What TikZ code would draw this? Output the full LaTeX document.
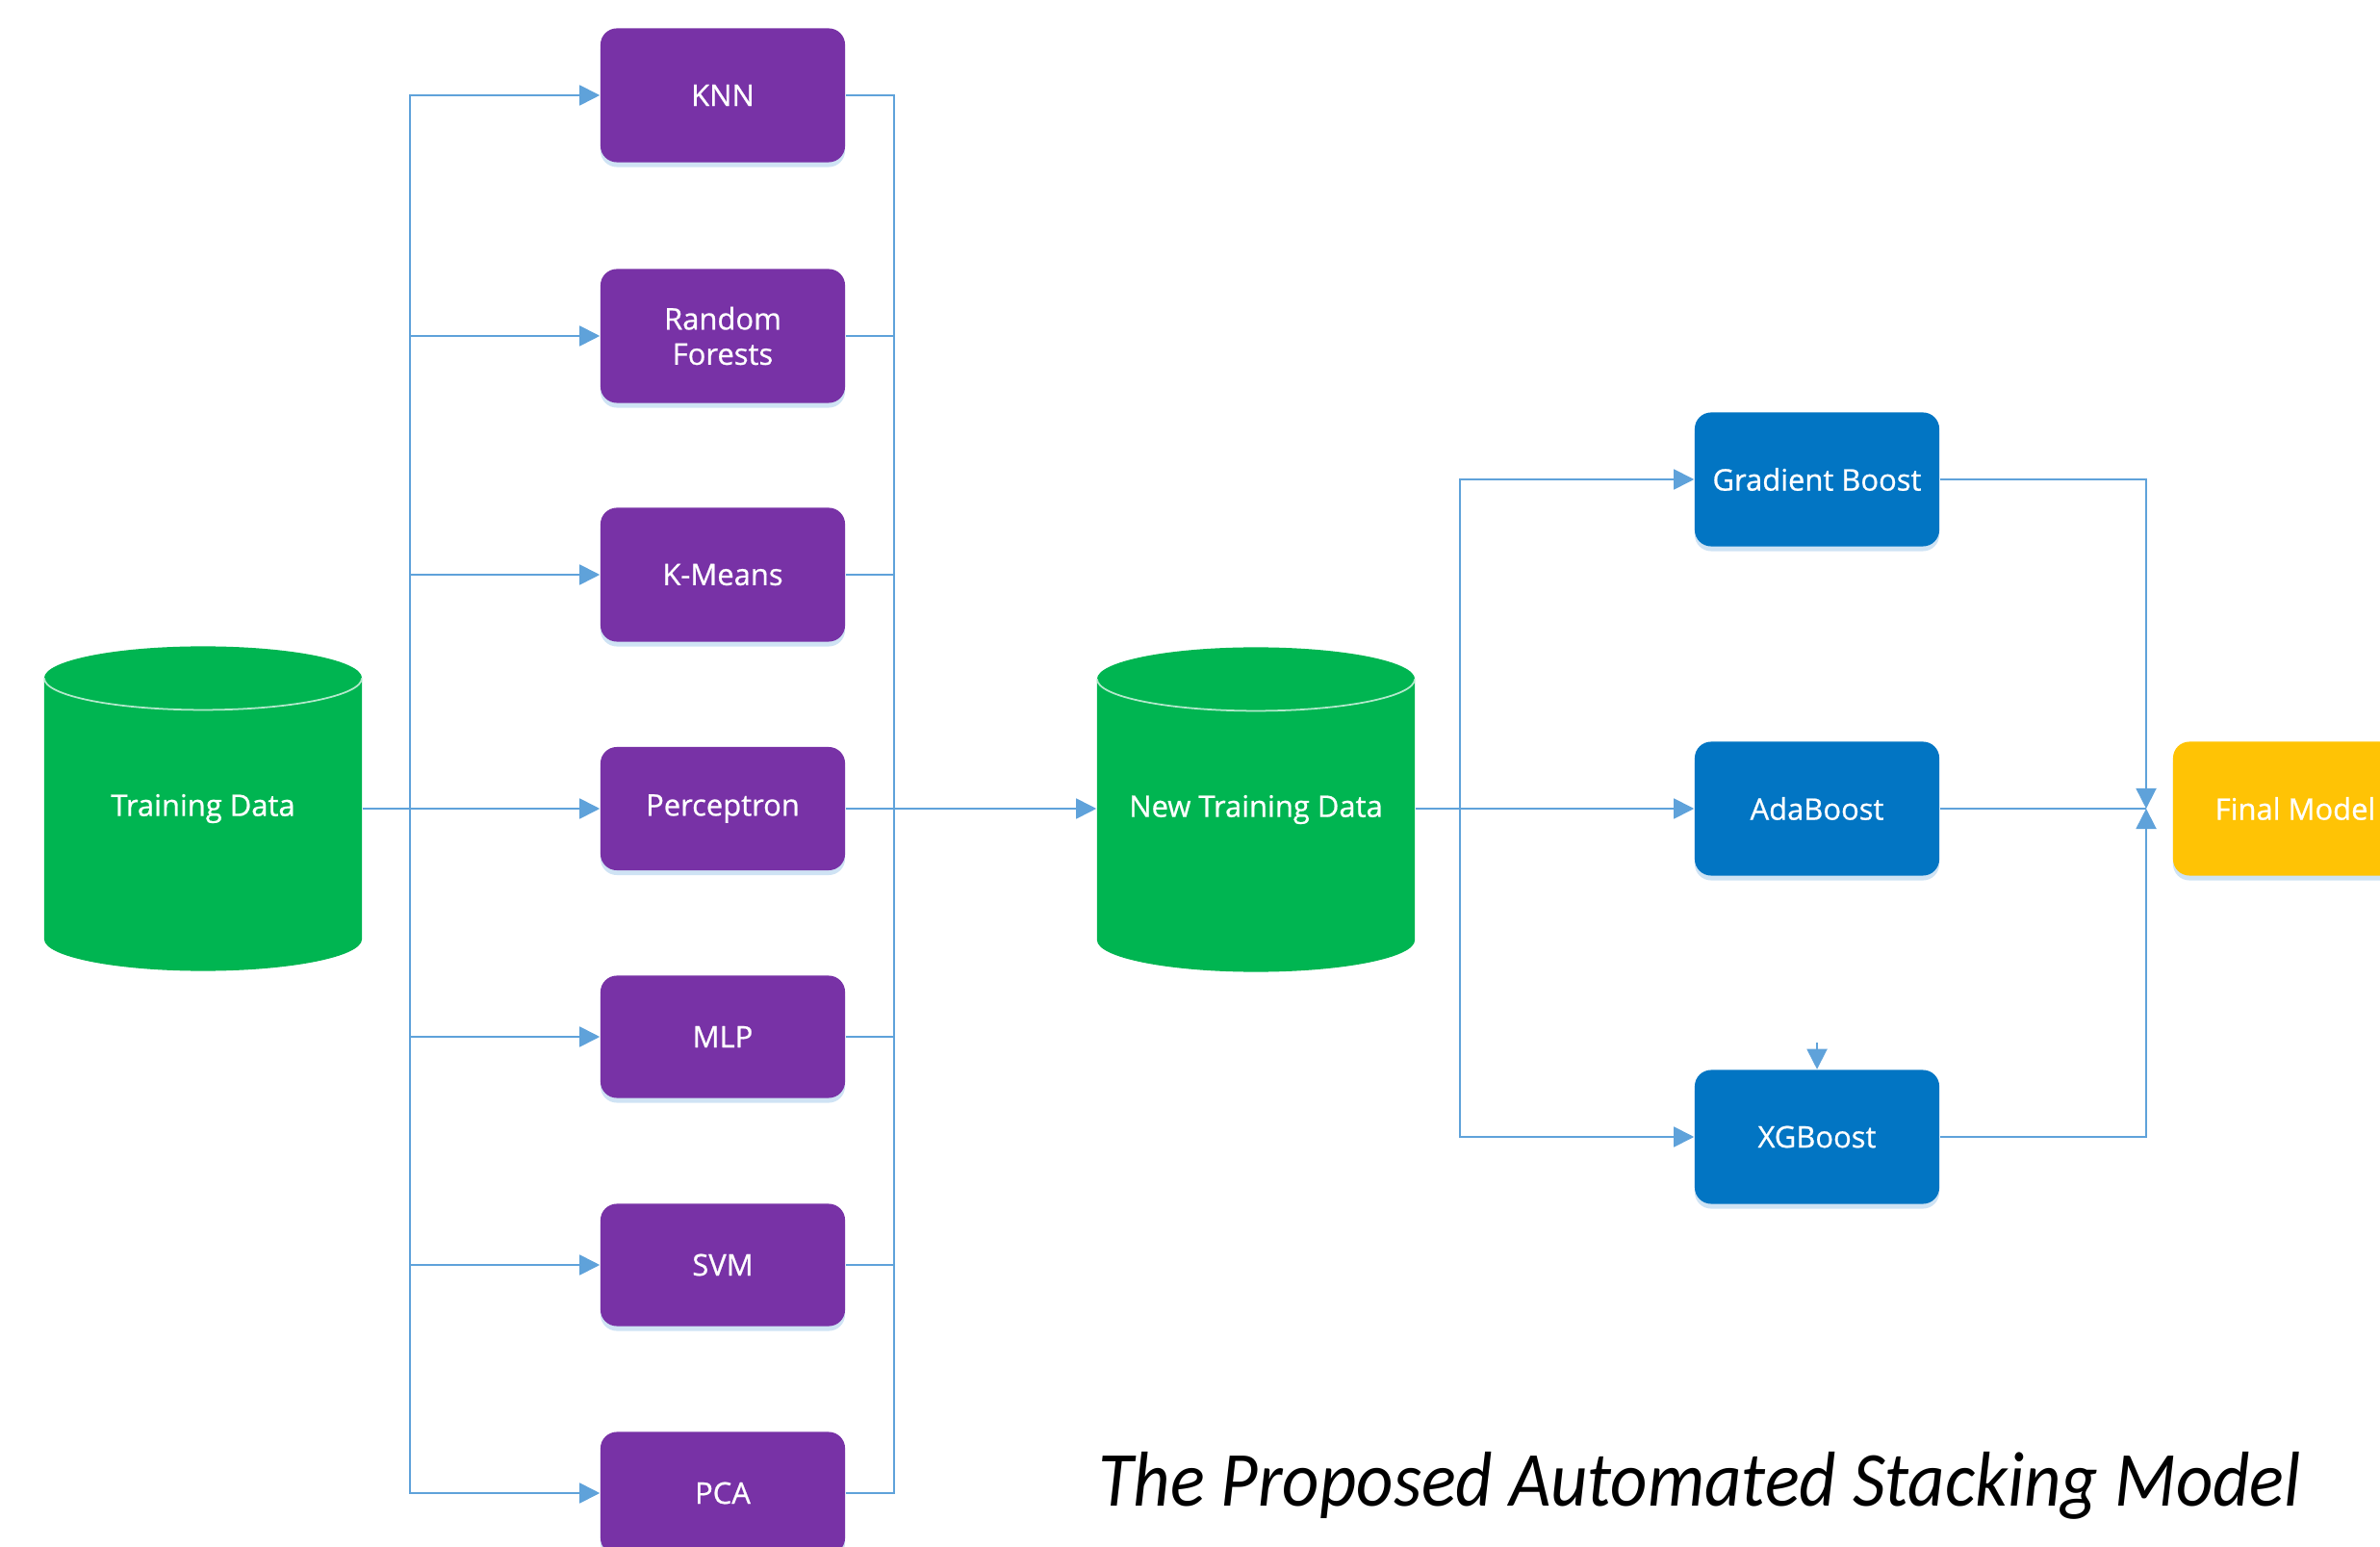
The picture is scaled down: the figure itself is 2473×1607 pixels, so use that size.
\documentclass[tikz,border=0pt]{standalone}
\usepackage{fontspec}
\setmainfont{Open Sans}[BoldFont={Open Sans}, BoldFeatures={FakeBold=0.7}]
\newfontfamily\capfont{Carlito}
\usetikzlibrary{arrows.meta,shadows}
\definecolor{mlpurple}{HTML}{7832A6}
\definecolor{dbgreen}{HTML}{00B551}
\definecolor{boostblue}{HTML}{0275C3}
\definecolor{finalgold}{HTML}{FFC305}
\definecolor{linkblue}{HTML}{5FA2DA}
\begin{document}
\begin{tikzpicture}[x=0.01cm, y=-0.01cm,
  every node/.style={text=white, font=\fontsize{8.8}{10.4}\selectfont\bfseries, align=center},
  box/.style={rounded corners=0.17cm, minimum width=2.54cm, inner sep=0pt,
    drop shadow={shadow xshift=0pt, shadow yshift=-0.05cm, opacity=0.3, fill=linkblue}},
  db/.style={minimum width=3.3cm, minimum height=3.37cm, inner sep=0pt,
    path picture={
      \fill[dbgreen] ([yshift=-0.33cm]path picture bounding box.north west)
        -- ([yshift=0.33cm]path picture bounding box.south west)
        arc[start angle=180, end angle=360, x radius=1.65cm, y radius=0.33cm]
        -- ([yshift=-0.33cm]path picture bounding box.north east)
        arc[start angle=0, end angle=180, x radius=1.65cm, y radius=0.33cm] -- cycle;
      \draw[white!70!dbgreen, line width=0.5pt]
        ([yshift=-0.33cm]path picture bounding box.north west)
        arc[start angle=180, end angle=360, x radius=1.65cm, y radius=0.33cm];
    }},
  link/.style={draw=linkblue, line width=0.5pt},
  flow/.style={link, -{Triangle[length=2.1mm,width=2.1mm]}}]
\useasboundingbox (0,0) rectangle (2473,1607);

% data stores
\node[db] (train) at (211,840) {Training Data};
\node[db] (newdata) at (1305,841) {New Training Data};

% base learners
\foreach \n/\y/\h/\t in {knn/99/1.39/KNN, rf/349/1.39/{Random\\Forests}, km/597/1.39/K-Means,
  perc/840/1.28/Perceptron, mlp/1077/1.27/MLP, svm/1314/1.27/SVM, pca/1551/1.27/PCA}
  \node[box, fill=mlpurple, minimum height=\h cm] (\n) at (751,\y) {\t};

% boosting learners
\foreach \n/\y/\t in {gb/498/Gradient Boost, ada/840/AdaBoost, xg/1181/XGBoost}
  \node[box, fill=boostblue, minimum height=1.39cm] (\n) at (1888,\y) {\t};
\node[box, fill=finalgold, minimum height=1.39cm] (final) at (2385,840) {Final Model};

% wiring
\coordinate (split) at (426,840);
\coordinate (merge) at (929,840);
\coordinate (fan) at (1517,840);
\coordinate (join) at (2230,840);
\coordinate (stray) at (1888,1083);
\draw[link] (train.east |- split) -- (split);
\foreach \n in {knn,rf,km,perc,mlp,svm,pca} {
  \draw[flow] (split) |- (\n.west);
  \draw[link] (\n.east) -| (merge);
}
\draw[flow] (merge) -- (newdata.west |- merge);
\draw[link] (newdata.east |- fan) -- (fan);
\foreach \n in {gb,ada,xg}
  \draw[flow] (fan) |- (\n.west);
\draw[flow] (gb.east) -| (join);
\draw[flow] (xg.east) -| (join);
\draw[link] (ada.east) -- (join);
\draw[flow] (stray) -- (xg.north);

\node[text=black, font=\capfont\itshape\fontsize{23}{26}\selectfont, anchor=base]
  (caption) at (1766,1564) {\scalebox{0.924}[1]{The Proposed Automated Stacking Model}};
\end{tikzpicture}
\end{document}
